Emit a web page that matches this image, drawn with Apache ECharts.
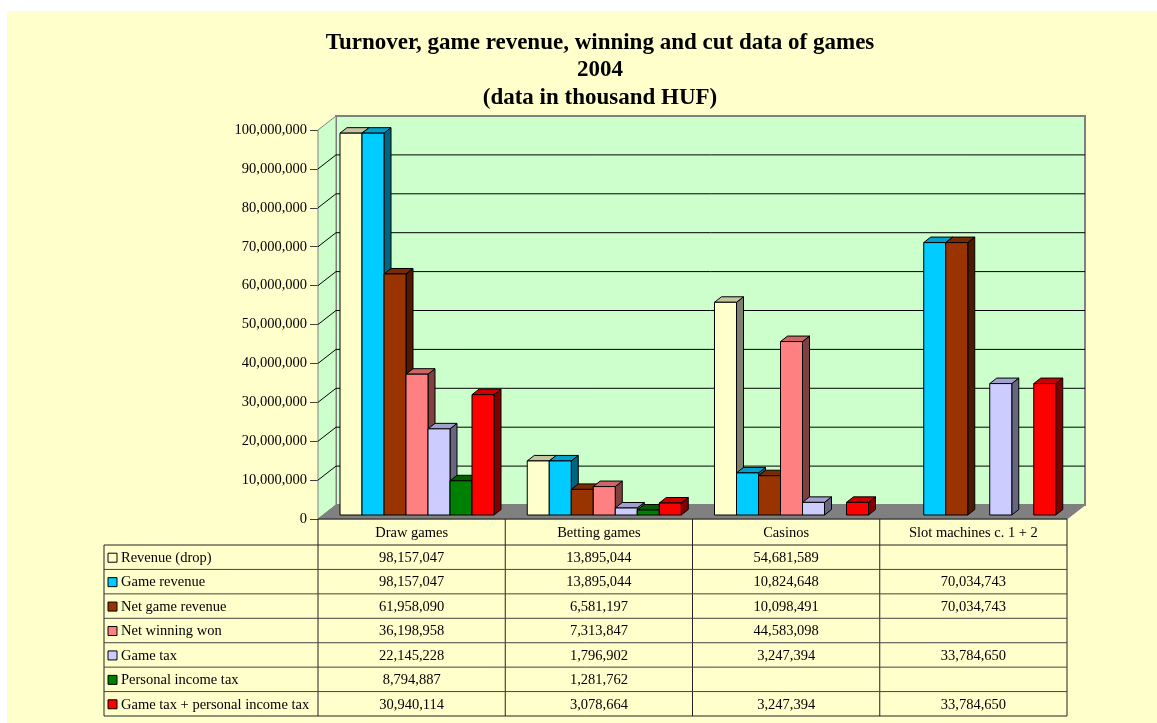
<!DOCTYPE html>
<html>
<head>
<meta charset="utf-8">
<script src="https://cdn.jsdelivr.net/npm/echarts@6/dist/echarts.min.js"></script>
<style>html,body{margin:0;padding:0;background:#fff;}#c{width:1157px;height:723px;}</style>
</head>
<body>
<div id="c"></div>
<script>
const categories = ['Draw games', 'Betting games', 'Casinos', 'Slot machines c. 1 + 2'];
const seriesNames = ['Revenue (drop)', 'Game revenue', 'Net game revenue', 'Net winning won', 'Game tax', 'Personal income tax', 'Game tax + personal income tax'];
const revenueDrop = [98157047, 13895044, 54681589, null];
const gameRevenue = [98157047, 13895044, 10824648, 70034743];
const netGameRevenue = [61958090, 6581197, 10098491, 70034743];
const netWinningWon = [36198958, 7313847, 44583098, null];
const gameTax = [22145228, 1796902, 3247394, 33784650];
const personalIncomeTax = [8794887, 1281762, null, null];
const gameTaxPlusPIT = [30940114, 3078664, 3247394, 33784650];
const yTicks = [0, 10000000, 20000000, 30000000, 40000000, 50000000, 60000000, 70000000, 80000000, 90000000, 100000000];
const titleLines = ['Turnover, game revenue, winning and cut data of games', '2004', '(data in thousand HUF)'];

const allSeries = [revenueDrop, gameRevenue, netGameRevenue, netWinningWon, gameTax, personalIncomeTax, gameTaxPlusPIT];
const faceColors = ['#FFFFCC', '#00CCFF', '#993300', '#FF8080', '#CCCCFF', '#008000', '#FF0000'];
const topColors  = ['#C4C4A0', '#00A0CC', '#7A2900', '#CC6666', '#A0A0CC', '#006000', '#CC0000'];
const sideColors = ['#80806A', '#006680', '#4D1A00', '#804040', '#666680', '#004000', '#800000'];

const FONT = '"Liberation Serif", "Times New Roman", serif';
const DX = 18, DY = -14;      // wall depth
const BFY = -4;               // bar front offset into depth
const BDX = 7, BDY = -5.5;    // bar depth
const ROW_TOP = 545, ROW_H = 24.43;
const TFS = 14.5;

function fmt(v) { return v == null ? '' : v.toLocaleString('en-US'); }

const chart = echarts.init(document.getElementById('c'), null, { renderer: 'canvas' });

function wallsRender(params, api) {
  const bw = api.size([1, 0])[0];
  const X0 = api.coord([0, 0])[0] - bw / 2;
  const X1 = api.coord([categories.length - 1, 0])[0] + bw / 2;
  const Y0 = api.coord([0, 0])[1];
  const Yt = api.coord([0, yTicks[yTicks.length - 1]])[1];
  const ch = [];
  ch.push({ type: 'polygon', shape: { points: [[X0 + DX, Yt + DY], [X1 + DX, Yt + DY], [X1 + DX, Y0 + DY], [X0 + DX, Y0 + DY]] },
    style: { fill: '#CCFFCC', stroke: '#808080', lineWidth: 2 } });
  ch.push({ type: 'polygon', shape: { points: [[X0, Y0], [X0, Yt], [X0 + DX, Yt + DY], [X0 + DX, Y0 + DY]] },
    style: { fill: '#CCFFCC', stroke: '#808080', lineWidth: 1 } });
  for (let i = 1; i < yTicks.length - 1; i++) {
    const y = api.coord([0, yTicks[i]])[1];
    ch.push({ type: 'line', shape: { x1: X0 + DX, y1: y + DY, x2: X1 + DX, y2: y + DY }, style: { stroke: '#000', lineWidth: 1 } });
    ch.push({ type: 'line', shape: { x1: X0, y1: y, x2: X0 + DX, y2: y + DY }, style: { stroke: '#000', lineWidth: 1 } });
  }
  ch.push({ type: 'polygon', shape: { points: [[X0, Y0], [X1, Y0], [X1 + DX, Y0 + DY], [X0 + DX, Y0 + DY]] },
    style: { fill: '#808080', stroke: '#808080', lineWidth: 1 } });
  return { type: 'group', children: ch };
}

function makeBarRender(si) {
  return function (params, api) {
    const cat = api.value(0), v = api.value(1);
    const bw = api.size([1, 0])[0];
    const base = api.coord([cat, 0]);
    const top = api.coord([cat, v]);
    const slot = bw * 0.1175;
    const x0 = base[0] - bw / 2 + slot * (1 + si);
    const x1 = x0 + slot;
    const yb = base[1] + BFY;
    const yt = top[1] + BFY;
    const s = { stroke: '#000', lineWidth: 1, lineJoin: 'round' };
    return { type: 'group', children: [
      { type: 'polygon', shape: { points: [[x1, yb], [x1 + BDX, yb + BDY], [x1 + BDX, yt + BDY], [x1, yt]] }, style: Object.assign({ fill: sideColors[si] }, s) },
      { type: 'polygon', shape: { points: [[x0, yt], [x1, yt], [x1 + BDX, yt + BDY], [x0 + BDX, yt + BDY]] }, style: Object.assign({ fill: topColors[si] }, s) },
      { type: 'polygon', shape: { points: [[x0, yb], [x1, yb], [x1, yt], [x0, yt]] }, style: Object.assign({ fill: faceColors[si] }, s) }
    ] };
  };
}

function tableRender(params, api) {
  const bw = api.size([1, 0])[0];
  const X0 = api.coord([0, 0])[0] - bw / 2;
  const X1 = api.coord([categories.length - 1, 0])[0] + bw / 2;
  const Y0 = api.coord([0, 0])[1];
  const LX = 104;
  const nRows = seriesNames.length;
  const YB = ROW_TOP + ROW_H * nRows;
  const ch = [];
  const ln = (x1, y1, x2, y2, c) => ch.push({ type: 'line', shape: { x1, y1, x2, y2 }, style: { stroke: c || '#222', lineWidth: 1 } });
  ln(X0, Y0, X1, Y0);
  for (let k = 0; k <= categories.length; k++) ln(X0 + k * bw, Y0, X0 + k * bw, YB);
  ln(LX, ROW_TOP, LX, YB);
  for (let r = 0; r <= nRows; r++) ln(LX, ROW_TOP + r * ROW_H, X1, ROW_TOP + r * ROW_H, (r === 0 || r === nRows) ? '#222' : '#444');
  const txt = (t, x, y, align) => ch.push({ type: 'text', x, y, style: { text: t, font: TFS + 'px ' + FONT, fill: '#000', align: align || 'center', verticalAlign: 'middle' } });
  for (let c = 0; c < categories.length; c++) {
    const cx = api.coord([c, 0])[0];
    txt(categories[c], cx, (Y0 + ROW_TOP) / 2 + 1);
    for (let r = 0; r < nRows; r++) txt(fmt(allSeries[r][c]), cx, ROW_TOP + r * ROW_H + ROW_H / 2 + 1);
  }
  for (let r = 0; r < nRows; r++) {
    const cy = ROW_TOP + r * ROW_H + ROW_H / 2;
    ch.push({ type: 'rect', shape: { x: LX + 4, y: cy - 4, width: 9, height: 9 }, style: { fill: faceColors[r], stroke: '#000', lineWidth: 1 } });
    txt(seriesNames[r], LX + 17, cy + 1, 'left');
  }
  return { type: 'group', children: ch };
}

const series = [
  { type: 'custom', name: 'walls', renderItem: wallsRender, data: [[0, 0]], clip: false, silent: true, z: 1 }
];
allSeries.forEach((arr, si) => {
  const data = [];
  arr.forEach((v, ci) => { if (v != null) data.push([ci, v]); });
  series.push({ type: 'custom', name: seriesNames[si], renderItem: makeBarRender(si), data, clip: false, z: 2 });
});
series.push({ type: 'custom', name: 'table', renderItem: tableRender, data: [[0, 0]], clip: false, silent: true, z: 3 });

chart.setOption({
  backgroundColor: '#FFFFFF',
  animation: false,
  title: {
    text: titleLines.join('\n'),
    left: 595, top: 24, textAlign: 'center',
    textStyle: { fontFamily: FONT, fontWeight: 'bold', fontSize: 23, lineHeight: 27.5, color: '#000' }
  },
  graphic: [{ type: 'rect', z: -100, shape: { x: 7, y: 11, width: 1150, height: 712 }, style: { fill: '#FFFFCC' } }],
  grid: { left: 318, right: 90, top: 130, bottom: 204, containLabel: false },
  xAxis: { type: 'category', data: categories, boundaryGap: true, axisLine: { show: false }, axisTick: { show: false }, axisLabel: { show: false }, splitLine: { show: false } },
  yAxis: {
    type: 'value', min: yTicks[0], max: yTicks[yTicks.length - 1], interval: yTicks[1] - yTicks[0],
    axisLine: { show: true, lineStyle: { color: '#808080', width: 1 } },
    axisTick: { show: true, length: 8, lineStyle: { color: '#404040' } },
    axisLabel: { margin: 11, fontFamily: FONT, fontSize: TFS, color: '#000', formatter: v => v.toLocaleString('en-US') },
    splitLine: { show: false }
  },
  series
});
</script>
</body>
</html>
